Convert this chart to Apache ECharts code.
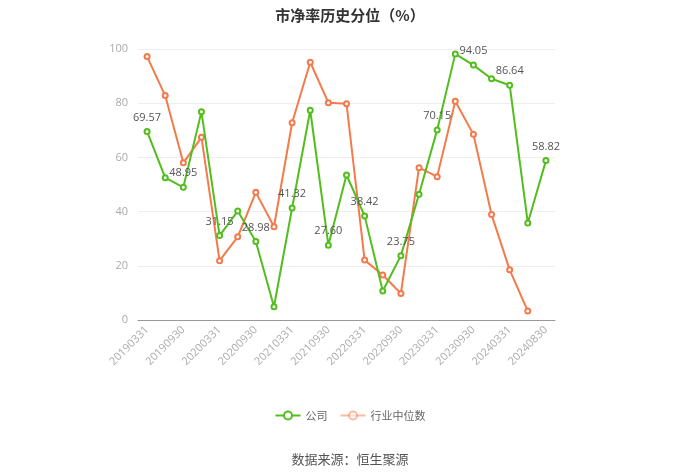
<!DOCTYPE html>
<html>
<head>
<meta charset="utf-8">
<script src="https://cdn.jsdelivr.net/npm/echarts@6/dist/echarts.min.js"></script>
<style>
html,body{margin:0;padding:0;background:#fff;}
#chart{width:700px;height:473px;}
</style>
</head>
<body>
<div id="chart"></div>
<script>
var categories = ['20190331','20190630','20190930','20191231','20200331','20200630','20200930','20201231','20210331','20210630','20210930','20211231','20220331','20220630','20220930','20221231','20230331','20230630','20230930','20231231','20240331','20240630','20240830'];
var companyValues = [69.57, 52.5, 48.95, 76.8, 31.15, 40.2, 28.98, 4.9, 41.32, 77.4, 27.60, 53.5, 38.42, 10.7, 23.75, 46.4, 70.15, 98.2, 94.05, 89.0, 86.64, 35.8, 58.82];
var industryValues = [97.2, 82.8, 58.0, 67.4, 21.9, 30.7, 47.1, 34.4, 72.8, 95.1, 80.2, 79.8, 22.1, 16.6, 9.8, 56.2, 52.9, 80.7, 68.5, 38.9, 18.5, 3.3, null];
var yTicks = [0, 20, 40, 60, 80, 100];
var seriesNames = ['公司', '行业中位数'];
var titleText = '市净率历史分位（%）';
var sourceText = '数据来源：恒生聚源';

var green = '#52BE1E';
var orange = '#F47A4B';
var chart = echarts.init(document.getElementById('chart'), null, {renderer: 'canvas'});
chart.setOption({
  animation: false,
  backgroundColor: '#fff',
  title: [{
    text: titleText, left: 'center', top: 3,
    textStyle: {fontSize: 15, fontWeight: 'bold', color: '#333', fontFamily: 'Noto Sans CJK SC'}
  }, {
    text: sourceText, left: 'center', top: 448,
    textStyle: {fontSize: 13, fontWeight: 'normal', color: '#555', fontFamily: 'Noto Sans CJK SC'}
  }],
  legend: {
    bottom: 47, left: 'center', itemWidth: 25, itemHeight: 10, itemGap: 12,
    textStyle: {fontSize: 11, color: '#666', fontFamily: 'Noto Sans CJK SC'},
    data: [
      {name: seriesNames[0]},
      {name: seriesNames[1], itemStyle: {opacity: 0.5}, lineStyle: {opacity: 0.5}}
    ]
  },
  grid: {left: 138, right: 145, top: 49, bottom: 153},
  xAxis: {
    type: 'category', data: categories, boundaryGap: true,
    axisLine: {lineStyle: {color: '#999'}},
    axisTick: {alignWithLabel: true, interval: 1, lineStyle: {color: '#999'}},
    axisLabel: {interval: 1, rotate: 45, color: '#aaa', fontSize: 11, fontFamily: 'Open Sans', margin: 8}
  },
  yAxis: {
    type: 'value', min: yTicks[0], max: yTicks[yTicks.length - 1], interval: 20,
    axisLine: {show: false}, axisTick: {show: false},
    axisLabel: {color: '#aaa', fontSize: 11, fontFamily: 'Open Sans', margin: 10},
    splitLine: {lineStyle: {color: '#eee'}}
  },
  series: [{
    name: seriesNames[0], type: 'line', data: companyValues,
    symbol: 'emptyCircle', symbolSize: 5,
    lineStyle: {color: green, width: 2}, itemStyle: {color: green},
    label: {
      show: true, position: 'top', color: '#555', fontSize: 11, fontFamily: 'Open Sans',
      formatter: function (p) { return p.dataIndex % 2 === 0 ? p.value.toFixed(2) : ''; }
    },
    z: 3
  }, {
    name: seriesNames[1], type: 'line', data: industryValues,
    symbol: 'emptyCircle', symbolSize: 5,
    lineStyle: {color: orange, width: 2}, itemStyle: {color: orange},
    z: 2
  }]
});
</script>
</body>
</html>
